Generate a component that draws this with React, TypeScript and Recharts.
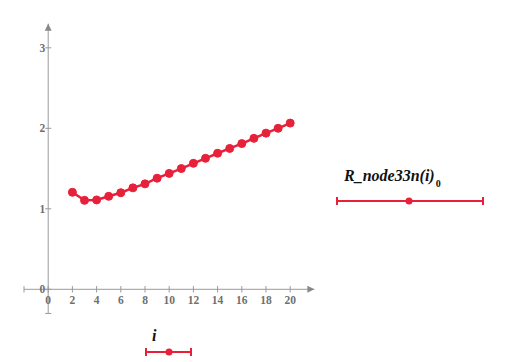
import React from "react";
import {
  LineChart,
  Line,
  XAxis,
  YAxis,
  ReferenceLine,
  ReferenceDot,
} from "recharts";

const iValues = [2, 3, 4, 5, 6, 7, 8, 9, 10, 11, 12, 13, 14, 15, 16, 17, 18, 19, 20];
const rValues = [
  1.205, 1.105, 1.11, 1.155, 1.2, 1.26, 1.31, 1.38, 1.44, 1.5, 1.565, 1.627,
  1.69, 1.75, 1.81, 1.875, 1.94, 2.0, 2.065,
];
const xTicks = [0, 2, 4, 6, 8, 10, 12, 14, 16, 18, 20];
const yTicks = [0, 1, 2, 3];
const xDomain = [-2, 22];
const yDomain = [-0.3, 3.3];

const RED = "#e8203a";
const AXIS = "#9a9a9a";
const LABEL = "#707070";
const SERIF = "Liberation Serif, DejaVu Serif, serif";

const data = iValues.map((i, k) => ({ i, r: rValues[k] }));

const tickStyle = { fontFamily: SERIF, fontSize: 11.5, fontWeight: 700 };
const mathStyle = {
  fontFamily: SERIF,
  fontSize: 16,
  fontWeight: 700,
  fontStyle: "italic",
};

const XLabel = (value: number) => (props: any) => (
  <text x={props.cx} y={props.cy + 15} textAnchor="middle" style={tickStyle} fill={LABEL}>
    {value}
  </text>
);

const YLabel = (value: number) => (props: any) => (
  <text x={props.cx - 3} y={props.cy + 4} textAnchor="end" style={tickStyle} fill={LABEL}>
    {value}
  </text>
);

const RightArrow = (props: any) => (
  <polygon
    points={`${props.cx},${props.cy} ${props.cx - 7},${props.cy - 3.5} ${props.cx - 7},${props.cy + 3.5}`}
    fill="#888"
  />
);

const UpArrow = (props: any) => (
  <polygon
    points={`${props.cx},${props.cy} ${props.cx - 3.5},${props.cy + 7} ${props.cx + 3.5},${props.cy + 7}`}
    fill="#888"
  />
);

const LegendOverlay = () => (
  <svg
    width={505}
    height={362}
    style={{ position: "absolute", left: 0, top: 0, pointerEvents: "none" }}
  >
    <text x={344} y={181} style={mathStyle} fill="#111">
      R_node33n(i)
      <tspan dx={1} dy={6} style={{ fontSize: 10, fontStyle: "normal" }}>
        0
      </tspan>
    </text>
    <line x1={337} y1={201} x2={483} y2={201} stroke={RED} strokeWidth={2} />
    <line x1={337} y1={197} x2={337} y2={205} stroke={RED} strokeWidth={2} />
    <line x1={483} y1={197} x2={483} y2={205} stroke={RED} strokeWidth={2} />
    <circle cx={409} cy={201} r={3.5} fill={RED} />

    <text x={152} y={341} style={mathStyle} fill="#111">
      i
    </text>
    <line x1={146} y1={352} x2={191} y2={352} stroke={RED} strokeWidth={2} />
    <line x1={146} y1={348} x2={146} y2={356} stroke={RED} strokeWidth={2} />
    <line x1={191} y1={348} x2={191} y2={356} stroke={RED} strokeWidth={2} />
    <circle cx={169} cy={352} r={3.5} fill={RED} />
  </svg>
);

const App = () => {
  return (
    <div style={{ position: "absolute", left: 0, top: 0, width: 505, height: 362 }}>
      <LineChart
        width={505}
        height={362}
        data={data}
        margin={{ top: 23.65, right: 190.6, bottom: 48.55, left: 24 }}
      >
        <XAxis type="number" dataKey="i" domain={xDomain} hide allowDataOverflow />
        <YAxis type="number" domain={yDomain} hide allowDataOverflow />

        {/* axes through origin */}
        <ReferenceLine
          segment={[{ x: xDomain[0], y: 0 }, { x: xDomain[1], y: 0 }]}
          stroke={AXIS}
          strokeWidth={1}
        />
        <ReferenceLine
          segment={[{ x: 0, y: yDomain[0] }, { x: 0, y: yDomain[1] }]}
          stroke={AXIS}
          strokeWidth={1}
        />
        {/* end caps */}
        <ReferenceLine
          segment={[{ x: xDomain[0], y: -0.04 }, { x: xDomain[0], y: 0.04 }]}
          stroke={AXIS}
        />
        <ReferenceLine
          segment={[{ x: -0.25, y: yDomain[0] }, { x: 0.25, y: yDomain[0] }]}
          stroke={AXIS}
        />
        <ReferenceDot x={xDomain[1]} y={0} r={0} shape={RightArrow} />
        <ReferenceDot x={0} y={yDomain[1]} r={0} shape={UpArrow} />

        {xTicks.map((t) => (
          <ReferenceLine
            key={`xt${t}`}
            segment={[{ x: t, y: -0.04 }, { x: t, y: 0.04 }]}
            stroke={AXIS}
          />
        ))}
        {yTicks.map((t) => (
          <ReferenceLine
            key={`yt${t}`}
            segment={[{ x: -0.25, y: t }, { x: 0.25, y: t }]}
            stroke={AXIS}
          />
        ))}
        {xTicks.map((t) => (
          <ReferenceDot key={`xl${t}`} x={t} y={0} r={0} shape={XLabel(t)} />
        ))}
        {yTicks.map((t) => (
          <ReferenceDot key={`yl${t}`} x={0} y={t} r={0} shape={YLabel(t)} />
        ))}

        <Line
          dataKey="r"
          stroke={RED}
          strokeWidth={2.5}
          dot={{ r: 4, fill: RED, stroke: RED, strokeWidth: 1 }}
          isAnimationActive={false}
        />
      </LineChart>
      <LegendOverlay />
    </div>
  );
};

export default App;
